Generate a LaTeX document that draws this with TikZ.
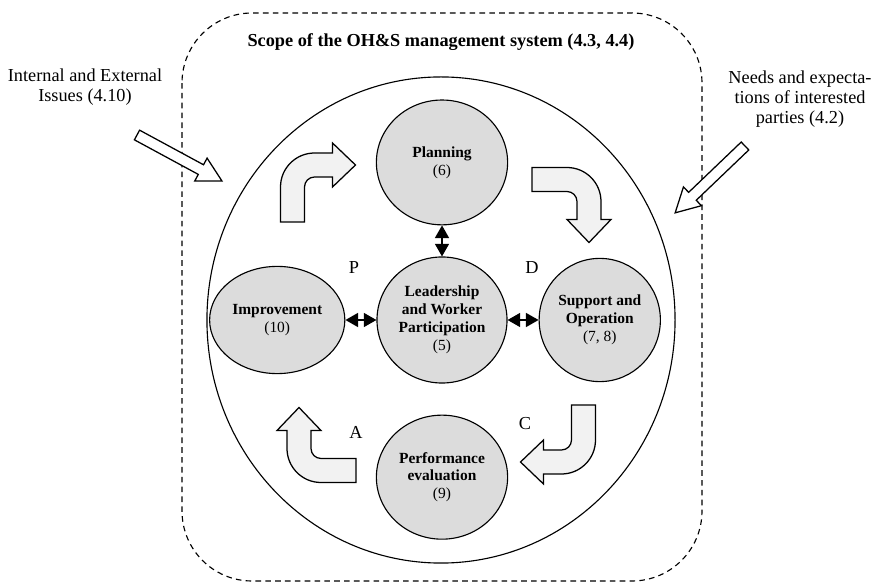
\documentclass[tikz,border=0pt]{standalone}
\usepackage{fontspec}
\setmainfont{Liberation Serif}
\usepackage{tikz}
\usetikzlibrary{arrows.meta, positioning, calc, shapes.geometric}
\definecolor{phasegrey}{HTML}{DCDCDC}
\definecolor{bendgrey}{HTML}{F2F2F2}
\tikzset{
    phase/.style={ellipse, draw=black, line width=0.8pt, fill=phasegrey, inner sep=0pt, align=center, font=\fontsize{11}{12.7}\selectfont},
    label/.style={align=center, font=\fontsize{13}{14.5}\selectfont},
    pdca/.style={font=\fontsize{13}{14}\selectfont},
    biarrow/.style={{Triangle[length=9pt,width=10pt]}-{Triangle[length=9pt,width=10pt]}, line width=1pt},
    hollow/.style={draw=black, fill=white, line width=0.9pt, line join=miter},
    bent/.style={draw=black, fill=bendgrey, line width=0.9pt, line join=miter},
    bentarrow/.pic={
        \draw[bent] (-37.5,38) -- (-37.5,3) .. controls (-37.5,-16) and (-22,-31) .. (-3.5,-31)
            -- (14.5,-31) -- (14.5,-41) -- (37.5,-19) -- (14.5,3) -- (14.5,-7) -- (-3.5,-7)
            .. controls (-9,-7) and (-13.5,-2.5) .. (-13.5,3) -- (-13.5,38) -- cycle;
    }
}
% open block arrow from one coordinate to another
\newcommand\hollowarrow[2]{%
    \draw[hollow] let \p1=($(#2)-(#1)$), \n1={atan2(\y1,\x1)}, \n2={veclen(\x1,\y1)} in
        [shift={(#1)}, rotate=\n1] (0pt,3.9pt) -- (\n2-17pt,3.9pt) -- (\n2-17pt,9.25pt) -- (\n2,0pt)
        -- (\n2-17pt,-9.25pt) -- (\n2-17pt,-3.9pt) -- (0pt,-3.9pt) -- cycle;}

\begin{document}
\begin{tikzpicture}[x=0.025cm, y=-0.025cm, node distance=0.775cm]
        \useasboundingbox (0,0) rectangle (883,583);

        % scope boundary and title
        \draw[dashed, dash pattern=on 4pt off 3pt, line width=0.8pt, rounded corners=1.75cm] (182,13) rectangle (702,581);
        \node[font=\fontsize{13}{15}\selectfont\bfseries] (scope) at (441,42) {Scope of the OH\&S management system (4.3, 4.4)};

        \node[ellipse, draw=black, line width=0.8pt, minimum width=11.7cm, minimum height=12.15cm] (cycle) at (441,320) {};

        % PDCA phases
        \node[phase, minimum width=3.25cm, minimum height=3.15cm] (leader) at (442,320) {\textbf{Leadership}\\\textbf{and Worker}\\\textbf{Participation}\\(5)};
        \node[phase, above=of leader, minimum width=3.28cm, minimum height=3.12cm] (planning) {\textbf{Planning}\\(6)};
        \node[phase, left=of leader, minimum width=3.38cm, minimum height=2.68cm] (improve) {\textbf{Improvement}\\(10)};
        \node[phase, right=of leader, minimum width=3.03cm, minimum height=3.08cm] (support) {\textbf{Support and}\\\textbf{Operation}\\(7, 8)};
        \node[phase, below=of leader, minimum width=3.28cm, minimum height=3.1cm] (perform) {\textbf{Performance}\\\textbf{evaluation}\\(9)};

        \draw[biarrow] (planning) -- (leader);
        \draw[biarrow] (improve) -- (leader);
        \draw[biarrow] (support) -- (leader);

        \node[pdca] (plan) at (354,268) {P};
        \node[pdca] (do) at (532,268) {D};
        \node[pdca] (check) at (525,424) {C};
        \node[pdca] (act) at (356,432) {A};

        % turning arrows round the cycle
        \pic at (318,184) {bentarrow};
        \pic[rotate=-90] at (570,205) {bentarrow};
        \pic[rotate=180] at (558,443) {bentarrow};
        \pic[rotate=90] at (318,445) {bentarrow};

        % context inputs
        \node[label] (issues) at (85,87) {Internal and External\\Issues (4.10)};
        \node[label] (needs) at (800,99) {Needs and expecta-\\tions of interested\\parties (4.2)};
        \coordinate (issuestail) at (137,135);
        \coordinate (issuestip) at (222,181);
        \coordinate (needstail) at (745,146);
        \coordinate (needstip) at (675,213);
        \hollowarrow{issuestail}{issuestip}
        \hollowarrow{needstail}{needstip}
    \end{tikzpicture}
\end{document}
